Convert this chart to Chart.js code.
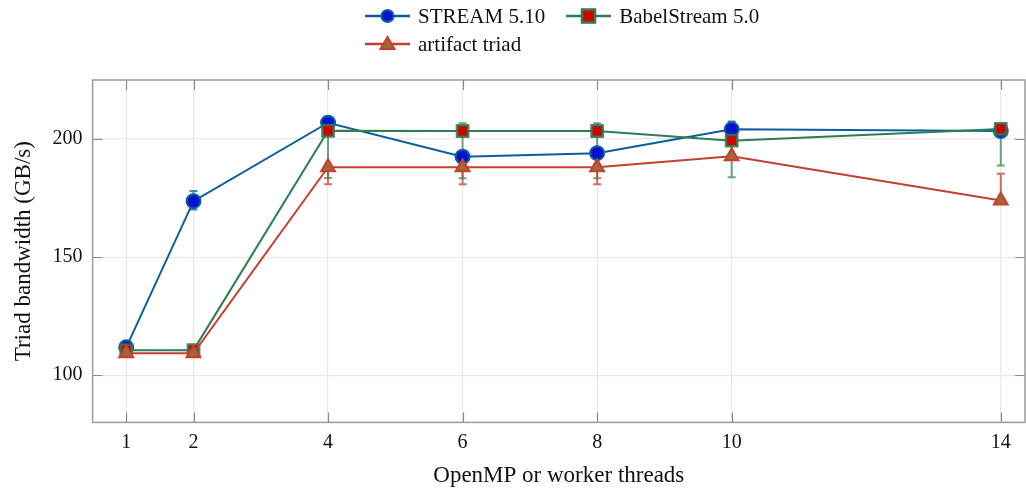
<!DOCTYPE html>
<html>
<head>
<meta charset="utf-8">
<script src="https://cdn.jsdelivr.net/npm/chart.js@4.4.1/dist/chart.umd.min.js"></script>
<style>
  html, body { margin: 0; padding: 0; background: #fff; overflow: hidden; }
  #wrap { position: relative; width: 1026px; height: 491px; }
  #legend { position: absolute; left: 365px; top: 2px; font-family: "Liberation Serif", "DejaVu Serif", serif; font-size: 21px; color: #111; width: 440px; }
  .item { display: inline-flex; align-items: center; height: 28px; margin-right: 21px; }
  .item svg { margin-right: 8px; }
  .row { height: 28px; white-space: nowrap; }
</style>
</head>
<body>
<div id="wrap">
  <canvas id="c" width="1026" height="491"></canvas>
  <div id="legend"></div>
</div>
<script>
// ---- data ----
const threads = [1, 2, 4, 6, 8, 10, 14];
const xTicks = [1, 2, 4, 6, 8, 10, 14];
const yTicks = [100, 150, 200];

const streamLabel = "STREAM 5.10";
const streamValues = [111.8, 173.7, 206.9, 192.5, 194.0, 204.1, 203.4];
const streamErrPlus = [1.0, 4.3, 2.4, 1.0, 1.0, 3.3, 1.0];
const streamErrMinus = [1.0, 3.5, 1.5, 1.0, 1.0, 1.5, 1.0];

const babelLabel = "BabelStream 5.0";
const babelValues = [110.6, 110.6, 203.5, 203.4, 203.4, 199.3, 204.3];
const babelErrPlus = [1.0, 1.0, 1.5, 3.3, 3.3, 1.0, 1.0];
const babelErrMinus = [1.0, 1.0, 20.0, 20.0, 20.0, 15.5, 15.5];

const triadLabel = "artifact triad";
const triadValues = [109.3, 109.3, 188.1, 188.1, 188.1, 192.7, 174.0];
const triadErrPlus = [1.0, 1.0, 1.0, 1.0, 1.0, 1.0, 11.3];
const triadErrMinus = [1.0, 1.0, 7.2, 7.3, 7.3, 1.0, 1.0];

// ---- styles ----
const FONT = '"Liberation Serif", "DejaVu Serif", serif';
const C_BLUE_LINE = '#0a5f9f', C_BLUE_FILL = '#0010d0';
const C_GREEN_LINE = '#2e7d54', C_RED_FILL = '#d00000';
const C_RED_LINE = '#c4402d', C_TRI_FILL = '#a3663a';

function pts(vals) { return threads.map((t, i) => ({ x: t, y: vals[i] })); }

const datasets = [
  { label: streamLabel, data: pts(streamValues), errPlus: streamErrPlus, errMinus: streamErrMinus,
    borderColor: C_BLUE_LINE, backgroundColor: C_BLUE_FILL, pointBackgroundColor: C_BLUE_FILL,
    pointBorderColor: C_BLUE_LINE, pointStyle: 'circle', pointRadius: 7, pointBorderWidth: 2,
    borderWidth: 2, errColor: 'rgba(10,95,159,0.75)', order: 2 },
  { label: babelLabel, data: pts(babelValues), errPlus: babelErrPlus, errMinus: babelErrMinus,
    borderColor: C_GREEN_LINE, backgroundColor: C_RED_FILL, pointBackgroundColor: C_RED_FILL,
    pointBorderColor: 'rgba(46,125,84,0.85)', pointStyle: 'rect', pointRadius: 8, pointBorderWidth: 2.5,
    borderWidth: 2, errColor: 'rgba(46,125,84,0.7)', order: 1 },
  { label: triadLabel, data: pts(triadValues), errPlus: triadErrPlus, errMinus: triadErrMinus,
    borderColor: C_RED_LINE, backgroundColor: C_TRI_FILL, pointBackgroundColor: C_TRI_FILL,
    pointBorderColor: C_RED_LINE, pointStyle: 'triangle', pointRadius: 8, pointBorderWidth: 2,
    borderWidth: 2, errColor: 'rgba(196,64,45,0.75)', order: 0 }
];

// error bars + frame + inner tick marks
const errorBars = {
  id: 'errorBars',
  beforeDatasetsDraw(chart) {
    const ctx = chart.ctx, xs = chart.scales.x, ys = chart.scales.y;
    chart.data.datasets.forEach((ds) => {
      ctx.save();
      ctx.strokeStyle = ds.errColor; ctx.lineWidth = 2;
      ds.data.forEach((p, i) => {
        const px = xs.getPixelForValue(p.x);
        const top = ys.getPixelForValue(p.y + ds.errPlus[i]);
        const bot = ys.getPixelForValue(p.y - ds.errMinus[i]);
        ctx.beginPath();
        ctx.moveTo(px, top); ctx.lineTo(px, bot);
        ctx.moveTo(px - 4, top); ctx.lineTo(px + 4, top);
        ctx.moveTo(px - 4, bot); ctx.lineTo(px + 4, bot);
        ctx.stroke();
      });
      ctx.restore();
    });
  }
};
const frame = {
  id: 'frame',
  afterDraw(chart) {
    const ctx = chart.ctx, a = chart.chartArea, xs = chart.scales.x, ys = chart.scales.y;
    ctx.save();
    ctx.strokeStyle = '#8a8a8a'; ctx.lineWidth = 1.2;
    xTicks.forEach(v => {
      const px = Math.round(xs.getPixelForValue(v)) + 0.5;
      ctx.beginPath(); ctx.moveTo(px, a.bottom); ctx.lineTo(px, a.bottom - 10);
      ctx.moveTo(px, a.top); ctx.lineTo(px, a.top + 10); ctx.stroke();
    });
    yTicks.forEach(v => {
      const py = Math.round(ys.getPixelForValue(v)) + 0.5;
      ctx.beginPath(); ctx.moveTo(a.left, py); ctx.lineTo(a.left + 10, py);
      ctx.moveTo(a.right, py); ctx.lineTo(a.right - 10, py); ctx.stroke();
    });
    ctx.strokeStyle = '#9a9a9a'; ctx.lineWidth = 1.5;
    ctx.strokeRect(a.left, a.top, a.right - a.left, a.bottom - a.top);
    ctx.restore();
  }
};

new Chart(document.getElementById('c'), {
  type: 'line',
  data: { datasets },
  options: {
    responsive: false, animation: false,
    layout: { autoPadding: false, padding: { top: 80, right: 1, left: 10, bottom: 1 } },
    plugins: { legend: { display: false }, tooltip: { enabled: false } },
    scales: {
      x: {
        type: 'linear', min: 0.5, max: 14.36,
        afterBuildTicks: (s) => { s.ticks = xTicks.map(v => ({ value: v })); },
        afterFit: (s) => { s.paddingRight = 0; },
        grid: { color: '#e8e8e8', lineWidth: 1.2, drawTicks: false },
        border: { display: false },
        ticks: { color: '#111', font: { family: FONT, size: 20 }, padding: 8 },
        title: { display: true, text: 'OpenMP or worker threads', color: '#111', font: { family: FONT, size: 23 }, padding: { top: 0, bottom: 0 } }
      },
      y: {
        type: 'linear', min: 80, max: 225,
        afterBuildTicks: (s) => { s.ticks = yTicks.map(v => ({ value: v })); },
        grid: { color: '#e8e8e8', lineWidth: 1.2, drawTicks: false },
        border: { display: false },
        ticks: { color: '#111', font: { family: FONT, size: 20 }, padding: 10 },
        title: { display: true, text: 'Triad bandwidth (GB/s)', color: '#111', font: { family: FONT, size: 23 }, padding: { top: 0, bottom: 5 } }
      }
    }
  },
  plugins: [errorBars, frame]
});

// HTML legend
function sym(ds) {
  let m = '';
  if (ds.pointStyle === 'circle') m = `<circle cx="22.5" cy="10" r="6" fill="${ds.pointBackgroundColor}" stroke="${ds.pointBorderColor}" stroke-width="2"/>`;
  else if (ds.pointStyle === 'rect') m = `<rect x="16" y="3.5" width="13" height="13" fill="${ds.pointBackgroundColor}" stroke="${C_GREEN_LINE}" stroke-width="2.5"/>`;
  else m = `<polygon points="22.5,3 29.5,15 15.5,15" fill="${ds.pointBackgroundColor}" stroke="${ds.pointBorderColor}" stroke-width="2"/>`;
  return `<svg width="45" height="20"><line x1="0" y1="10" x2="45" y2="10" stroke="${ds.borderColor}" stroke-width="2.5"/>${m}</svg>`;
}
const lg = document.getElementById('legend');
const rows = [[datasets[0], datasets[1]], [datasets[2]]];
lg.innerHTML = rows.map(r => `<div class="row">${r.map(ds => `<span class="item">${sym(ds)}<span>${ds.label}</span></span>`).join('')}</div>`).join('');
</script>
</body>
</html>
